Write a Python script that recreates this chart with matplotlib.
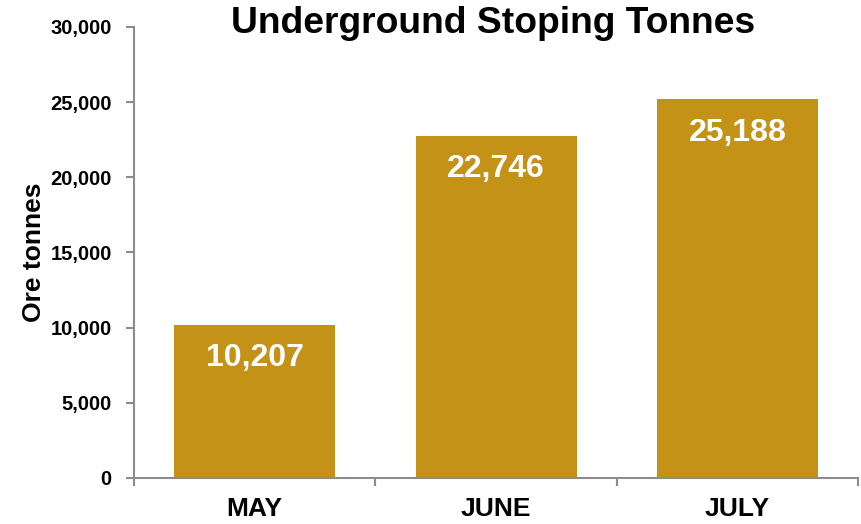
import matplotlib.pyplot as plt
from matplotlib.ticker import FuncFormatter

plt.rcParams['font.family'] = ['Liberation Sans', 'DejaVu Sans']
plt.rcParams['font.weight'] = 'bold'

# dades
months = ['MAY', 'JUNE', 'JULY']
tonnes = [10207, 22746, 25188]

bar_color = '#C49216'
axis_gray = '#8C8C8C'

fig = plt.figure(figsize=(8.62, 5.24), dpi=100)
ax = fig.add_axes([0.1555, 0.0878, 0.8399, 0.8607])

x = range(len(months))
bars = ax.bar(x, tonnes, width=0.667, color=bar_color)

# etiquetes dins les barres
for b, v in zip(bars, tonnes):
    ax.annotate(f'{v:,}', (b.get_x() + b.get_width() / 2, v),
                xytext=(0, -24), textcoords='offset points',
                ha='center', va='center', color='white',
                fontsize=23, fontweight='bold')

ax.set_xlim(-0.5, len(months) - 0.5)
ax.set_ylim(0, 30000)
ax.set_yticks(range(0, 30001, 5000))
ax.yaxis.set_major_formatter(FuncFormatter(lambda v, p: f'{int(v):,}'))

# marques de l'eix x entre categories
ax.set_xticks([i - 0.5 for i in range(len(months) + 1)])
ax.set_xticklabels([])
ax.set_xticks(list(x), minor=True)
ax.set_xticklabels(months, minor=True, fontsize=19, fontweight='bold')
ax.tick_params(axis='x', which='minor', length=0, pad=14)
ax.tick_params(axis='x', which='major', length=6, width=1.5, color=axis_gray, direction='out')
ax.tick_params(axis='y', length=6, width=1.5, color=axis_gray, direction='out', pad=10,
               labelsize=14.5)
for lbl in ax.get_yticklabels():
    lbl.set_fontweight('bold')

for s in ['top', 'right']:
    ax.spines[s].set_visible(False)
for s in ['left', 'bottom']:
    ax.spines[s].set_color(axis_gray)
    ax.spines[s].set_linewidth(1.5)

ax.set_ylabel('Ore tonnes', fontsize=19, fontweight='bold', labelpad=3)
fig.text(0.572, 0.956, 'Underground Stoping Tonnes', ha='center', va='center',
         fontsize=26.8, fontweight='bold')

fig.savefig('out.png', dpi=100)
